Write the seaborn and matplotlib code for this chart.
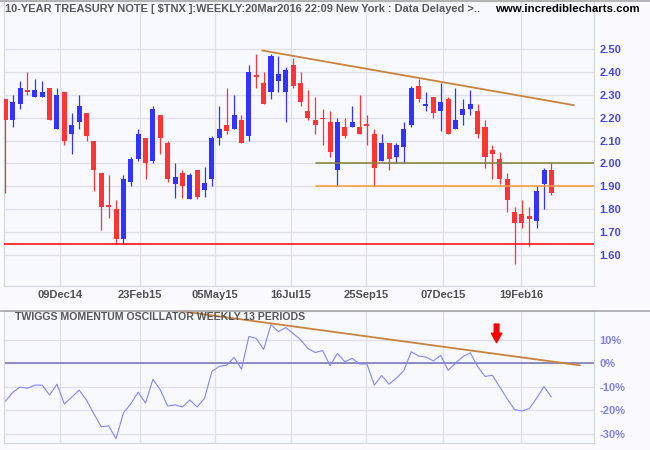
import numpy as np
import pandas as pd
import matplotlib
matplotlib.use("Agg")
import matplotlib.pyplot as plt
import seaborn as sns
from matplotlib import font_manager

# ---------------- data ----------------
opens = [2.28, 2.19, 2.26, 2.32, 2.29, 2.29, 2.33, 2.15, 2.31, 2.13,
         2.18, 2.22, 2.10, 1.96, 1.82, 1.80, 1.67, 1.92, 2.02, 2.11,
         2.01, 2.21, 2.09, 1.91, 1.96, 1.845, 1.97, 1.884, 1.93, 2.11,
         2.17, 2.15, 2.19, 2.12, 2.387, 2.35, 2.31, 2.36, 2.31, 2.43,
         2.35, 2.23, 2.19, 2.20, 2.18, 1.97, 2.16, 2.16, 2.16, 2.171,
         2.13, 2.01, 2.09, 2.03, 2.07, 2.17, 2.34, 2.25, 2.29, 2.23,
         2.28, 2.15, 2.21, 2.24, 2.23, 2.16, 2.06, 2.02, 1.93, 1.79,
         1.78, 1.77, 1.75, 1.91, 1.97]
highs = [2.28, 2.30, 2.36, 2.40, 2.37, 2.36, 2.33, 2.33, 2.31, 2.22,
         2.30, 2.22, 2.10, 1.96, 1.95, 1.84, 1.95, 2.03, 2.15, 2.11,
         2.25, 2.21, 2.10, 2.00, 1.97, 1.96, 1.97, 1.984, 2.12, 2.25,
         2.33, 2.30, 2.21, 2.43, 2.478, 2.40, 2.48, 2.47, 2.42, 2.46,
         2.40, 2.32, 2.29, 2.24, 2.23, 2.20, 2.20, 2.25, 2.30, 2.21,
         2.15, 2.13, 2.09, 2.09, 2.18, 2.34, 2.37, 2.31, 2.29, 2.35,
         2.29, 2.33, 2.28, 2.32, 2.26, 2.19, 2.08, 2.05, 1.96, 1.81,
         1.84, 1.81, 1.90, 1.98, 2.00]
lows = [1.87, 2.16, 2.24, 2.30, 2.29, 2.29, 2.19, 2.15, 2.08, 2.04,
        2.15, 2.10, 1.88, 1.71, 1.76, 1.65, 1.65, 1.90, 2.01, 1.93,
        2.00, 2.04, 1.92, 1.85, 1.85, 1.845, 1.845, 1.853, 1.90, 2.08,
        2.13, 2.15, 2.09, 2.10, 2.33, 2.26, 2.28, 2.31, 2.18, 2.33,
        2.25, 2.19, 2.13, 2.08, 2.03, 1.90, 2.11, 2.16, 2.13, 2.08,
        1.90, 2.01, 1.97, 2.00, 2.00, 2.16, 2.27, 2.23, 2.20, 2.14,
        2.13, 2.15, 2.17, 2.21, 2.11, 1.98, 1.93, 1.91, 1.79, 1.56,
        1.72, 1.64, 1.72, 1.80, 1.86]
closes = [2.19, 2.27, 2.33, 2.31, 2.32, 2.31, 2.19, 2.30, 2.10, 2.17,
          2.25, 2.12, 1.97, 1.81, 1.81, 1.67, 1.93, 2.02, 2.13, 2.00,
          2.24, 2.11, 1.93, 1.94, 1.90, 1.95, 1.855, 1.914, 2.11, 2.15,
          2.14, 2.21, 2.09, 2.40, 2.378, 2.26, 2.47, 2.39, 2.41, 2.34,
          2.27, 2.20, 2.17, 2.193, 2.05, 2.18, 2.12, 2.18, 2.13, 2.162,
          1.98, 2.09, 2.02, 2.08, 2.15, 2.33, 2.28, 2.26, 2.22, 2.27,
          2.13, 2.19, 2.24, 2.26, 2.13, 2.03, 2.04, 1.93, 1.84, 1.74,
          1.74, 1.757, 1.88, 1.97, 1.87]
momentum = [-16.2, -12.4, -10.1, -10.6, -9.3, -9.3, -13.5, -8.9, -17.3, -14.4,
            -11.4, -15.6, -21.5, -27.0, -26.6, -32.1, -21.1, -17.3, -12.3, -16.9,
            -6.8, -11.3, -18.2, -17.7, -18.6, -15.6, -18.6, -14.8, -3.4, -1.3,
            -0.8, 2.5, -2.5, 11.4, 10.6, 5.9, 16.5, 13.5, 15.2, 12.7,
            10.1, 6.3, 4.6, 5.4, -1.0, 4.2, 0.7, 2.1, -0.3, -0.3,
            -9.3, -5.2, -8.9, -6.3, -3.1, 4.9, 3.1, 2.7, 1.0, 3.4,
            -3.0, 0.1, 2.8, 4.5, -1.4, -5.6, -5.1, -10.1, -15.1, -19.7,
            -20.3, -19.3, -14.8, -9.9, -14.4]
last_week = "2016-03-19"

tick_labels = ["09Dec14", "23Feb15", "05May15", "16Jul15", "25Sep15", "07Dec15", "19Feb16"]
tick_dates = ["2014-12-09", "2015-02-23", "2015-05-05", "2015-07-16",
              "2015-09-25", "2015-12-07", "2016-02-19"]
price_ticks = [1.60, 1.70, 1.80, 1.90, 2.00, 2.10, 2.20, 2.30, 2.40, 2.50]
mom_ticks = [10, 0, -10, -20, -30]
mom_tick_labels = ["10%", "0%", "-10%", "-20%", "-30%"]

support_level = 1.65
level_upper = 2.00
level_lower = 1.90
levels_start_date = "2015-08-09"
trend_price_dates = ["2015-06-18", "2016-04-10"]
trend_price_values = [2.494, 2.254]
trend_mom_dates = ["2015-03-07", "2016-04-15"]
trend_mom_values = [23.8, -0.85]
arrow_date = "2016-01-27"
arrow_from, arrow_to = 16.7, 8.8

header = "10-YEAR TREASURY NOTE [ $TNX ]:WEEKLY:20Mar2016 22:09 New York : Data Delayed >.."
site = "www.incrediblecharts.com"
osc_title = "TWIGGS MOMENTUM OSCILLATOR WEEKLY 13 PERIODS"

# ---------------- frame ----------------
weeks = pd.date_range(end=last_week, periods=len(opens), freq="7D")
start = weeks[0]


def wk(d):
    return (pd.Timestamp(d) - start).days / 7.0


df = pd.DataFrame({"week": weeks, "open": opens, "high": highs,
                   "low": lows, "close": closes, "momentum": momentum})
df["x"] = [(w - start).days / 7.0 for w in df["week"]]
df["up"] = df["close"] >= df["open"]

sns.set_theme(style="whitegrid")
names = {f.name for f in font_manager.fontManager.ttflist}
narrow = "Liberation Sans Narrow" if "Liberation Sans Narrow" in names else "Liberation Sans"
plt.rcParams["font.family"] = ["Liberation Sans", "DejaVu Sans"]

BG = "#f8f8ff"
GRID = "#e0e0e8"
fig = plt.figure(figsize=(6.5, 4.5), dpi=100, facecolor="#fbfbff")
W, H = 650.0, 450.0
ax1 = fig.add_axes([4 / W, 1 - 286 / H, 590 / W, 285 / H], facecolor=BG)
ax2 = fig.add_axes([4 / W, 1 - 443 / H, 590 / W, (443 - 310.7) / H], facecolor=BG)

xlim = (-0.18, 79.77)
tick_pos = [wk(d) for d in tick_dates]

# ---------------- candles ----------------
up_c, dn_c = "#3333ff", "#ff3535"
colors = np.where(df["up"], up_c, dn_c)
bottoms = np.minimum(df["open"], df["close"])
heights = np.maximum(np.abs(df["close"] - df["open"]), 0.004)
ax1.vlines(df["x"], df["low"], df["high"], colors=colors, lw=0.9, zorder=3)
ax1.bar(df["x"], heights, bottom=bottoms, width=0.68, color=colors, linewidth=0, zorder=4)

ax1.axhline(support_level, color="#ff0000", lw=1.1, zorder=5)
x0 = wk(levels_start_date)
ax1.plot([x0, xlim[1]], [level_upper, level_upper], color="#7f7f3a", lw=1.1, zorder=5)
ax1.plot([x0, xlim[1]], [level_lower, level_lower], color="#f59a3a", lw=1.1, zorder=5)
ax1.plot([wk(d) for d in trend_price_dates], trend_price_values,
         color="#c8843c", lw=1.3, zorder=5, solid_capstyle="butt")

ax1.set_xlim(*xlim)
ax1.set_ylim(2.50 - 237 / 228.9, 2.50 + 48 / 228.9)
ax1.set_xticks(tick_pos)
ax1.set_xticklabels(tick_labels)
ax1.set_yticks(price_ticks)
ax1.set_yticklabels([f"{v:.2f}" for v in price_ticks])
ax1.yaxis.tick_right()
ax1.tick_params(axis="x", length=0, pad=3, labelsize=8, labelcolor="#505050")
ax1.tick_params(axis="y", length=0, pad=4, labelsize=8, labelcolor="#4646e6")
for lab in ax1.get_xticklabels() + ax1.get_yticklabels():
    lab.set_fontweight("bold")
ax1.grid(True, color=GRID, lw=0.9)
ax1.set_xlabel("")
ax1.set_ylabel("")

# ---------------- oscillator ----------------
ax2.axhline(0, color="#7272b4", lw=1.1, zorder=2)
sns.lineplot(data=df, x="x", y="momentum", ax=ax2, color="#8585ff", lw=0.8, zorder=3)
ax2.plot([wk(d) for d in trend_mom_dates], trend_mom_values,
         color="#c8843c", lw=1.3, zorder=4)
ax2.annotate("", xy=(wk(arrow_date), arrow_to), xytext=(wk(arrow_date), arrow_from),
             arrowprops=dict(arrowstyle="simple,head_length=0.9,head_width=1.0,tail_width=0.45",
                             color="#ff0000", shrinkA=0, shrinkB=0, mutation_scale=7.5),
             zorder=6)
ax2.set_xlim(*xlim)
ax2.set_ylim(-(443 - 363.3) / 2.35, (363.3 - 310.7) / 2.35)
ax2.set_xticks(tick_pos)
ax2.set_xticklabels([])
ax2.set_yticks(mom_ticks)
ax2.set_yticklabels(mom_tick_labels)
ax2.yaxis.tick_right()
ax2.tick_params(axis="x", length=0)
ax2.tick_params(axis="y", length=0, pad=4, labelsize=8, labelcolor="#8080f0")
for lab in ax2.get_yticklabels():
    lab.set_fontweight("bold")
ax2.grid(True, color=GRID, lw=0.9)
ax2.set_xlabel("")
ax2.set_ylabel("")
ax2.text(15 / W, 1 - 317.5 / H, osc_title, transform=fig.transFigure, ha="left", va="center",
         fontsize=7.6, fontweight="bold", color="#585858", zorder=7)

for ax in (ax1, ax2):
    for s in ax.spines.values():
        s.set_color("#d4d4dc")
        s.set_linewidth(0.8)

# ---------------- header & separators ----------------
fig.add_artist(plt.Line2D([0, 1], [1 - 0.5 / H, 1 - 0.5 / H], transform=fig.transFigure,
                          color="#a8a8a8", lw=1.2))
fig.add_artist(plt.Line2D([0, 1], [1 - 310.5 / H, 1 - 310.5 / H], transform=fig.transFigure,
                          color="#a8a8a8", lw=1.2))
htxt = fig.text(5 / W, 1 - 9.5 / H, header, ha="left", va="center", fontsize=8.5,
                fontweight="bold", color="#585858", family=[narrow, "DejaVu Sans"])
fig.canvas.draw()
wpx = htxt.get_window_extent().width
if wpx > 475:
    htxt.set_fontsize(8.5 * 473 / wpx)
fig.text(640 / W, 1 - 9.5 / H, site, ha="right", va="center", fontsize=8.2,
         fontweight="bold", color="#000000")

fig.savefig("out.png", dpi=100, facecolor=fig.get_facecolor())
